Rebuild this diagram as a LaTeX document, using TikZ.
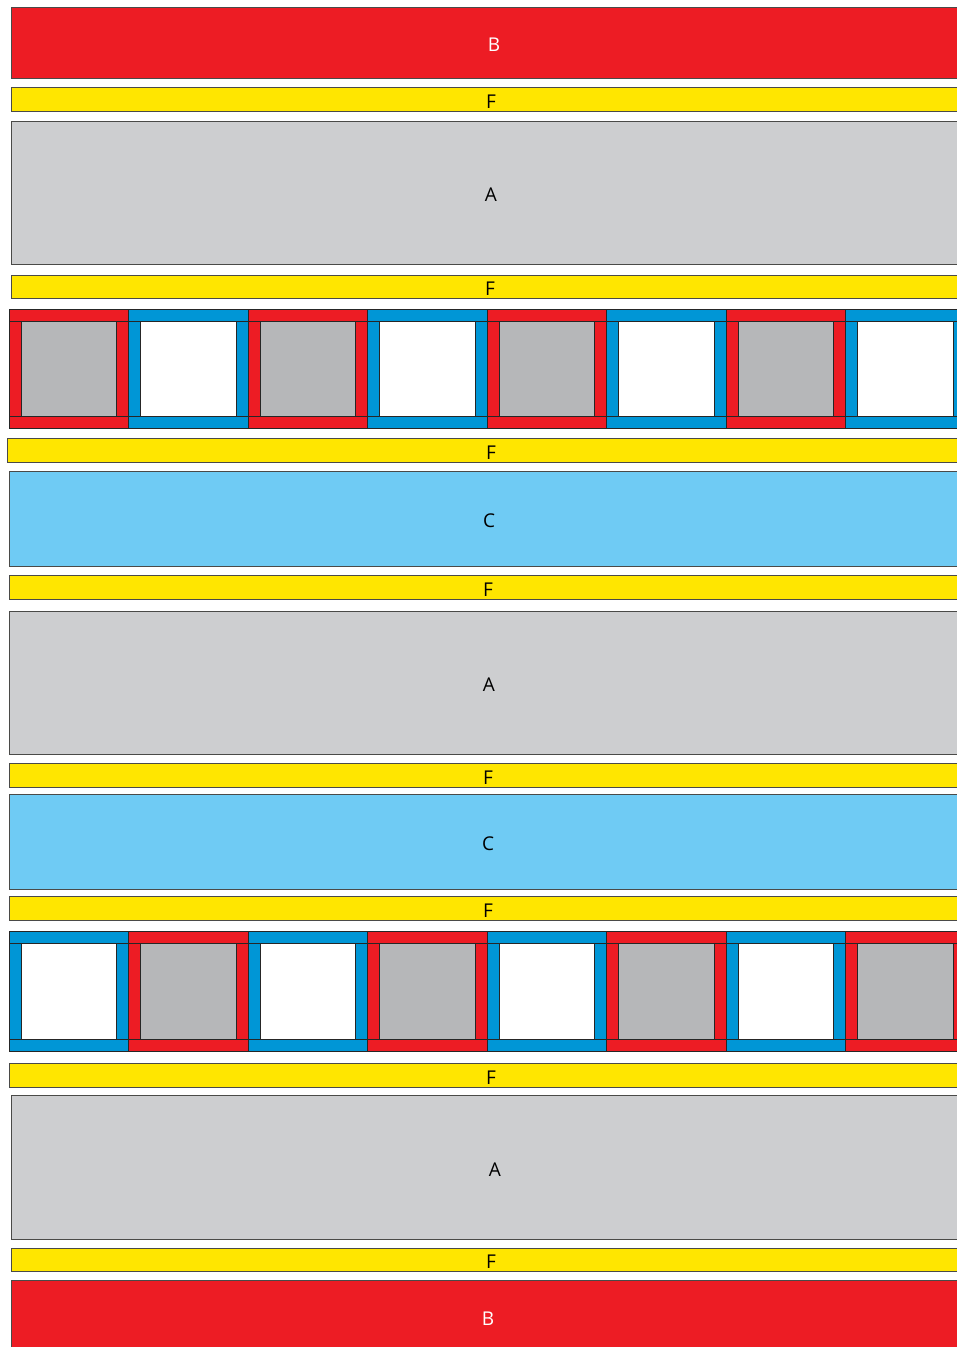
\documentclass[tikz,border=0pt]{standalone}
\usepackage{fontspec}
\setmainfont{Open Sans}
\definecolor{cred}{HTML}{ED1C24}
\definecolor{cyel}{HTML}{FFE600}
\definecolor{cgra}{HTML}{CDCED0}
\definecolor{clbl}{HTML}{6FCBF4}
\definecolor{cblu}{HTML}{0096D6}
\definecolor{cgin}{HTML}{B6B7B9}
\definecolor{cedge}{HTML}{4A4A48}
\begin{document}
\begin{tikzpicture}[x=1pt,y=-1pt,
  band/.style={draw=cedge,line width=0.8pt,anchor=north west,inner sep=0pt,outer sep=0pt,
    font=\fontsize{19}{19}\selectfont,text height=18.5pt,text depth=0pt},
  bandB/.style={band,fill=cred,text=white,minimum height=71pt},
  bandF/.style={band,fill=cyel,text=black,minimum height=24pt},
  bandA/.style={band,fill=cgra,text=black,minimum height=143pt},
  bandC/.style={band,fill=clbl,text=black,minimum height=95pt},
  cellframe/.style={draw=black!85,line width=0.8pt,anchor=north west,inner sep=0pt,outer sep=0pt,
    minimum width=119.5pt,minimum height=119pt},
  cellbar/.style={cellframe,minimum height=12pt},
  cellin/.style={cellframe,minimum width=95.5pt,minimum height=95pt}]
\useasboundingbox (0,0) rectangle (957,1347);
\clip (0,0) rectangle (957,1347);
\fill[white] (0,0) rectangle (957,1347);
% bands
\node[bandB,minimum width=966pt] (b1) at (11,7) {B};
\node[bandF,minimum width=960pt] (f1) at (11,87) {F};
\node[bandA,minimum width=960pt] (a1) at (11,121) {A};
\node[bandF,minimum width=958pt,minimum height=23pt] (f2) at (11,275) {F};
\node[bandF,minimum width=968pt] (f3) at (7,438) {F};
\node[bandC,minimum width=960pt] (c1) at (9,471) {C};
\node[bandF,minimum width=958pt] (f4) at (9,575) {F};
\node[bandA,minimum width=960pt] (a2) at (9,611) {A};
\node[bandF,minimum width=958pt] (f5) at (9,763) {F};
\node[bandC,minimum width=958pt] (c2) at (9,794) {C};
\node[bandF,minimum width=958pt] (f6) at (9,896) {F};
\node[bandF,minimum width=964pt] (f7) at (9,1063) {F};
\node[bandA,minimum width=968pt,minimum height=144pt] (a3) at (11,1095) {A};
\node[bandF,minimum width=960pt,minimum height=23pt] (f8) at (11,1248) {F};
\node[bandB,minimum width=954pt,minimum height=72pt] (b2) at (11,1280) {B};
% cell row 1
\foreach \i/\fc/\ic in {0/cred/cgin,1/cblu/white,2/cred/cgin,3/cblu/white,4/cred/cgin,5/cblu/white,6/cred/cgin,7/cblu/white}{
  \node[cellframe,fill=\fc] (ra\i) at ({9+119.5*\i},309) {};
  \node[cellbar,fill=\fc] (rat\i) at ({9+119.5*\i},309) {};
  \node[cellbar,fill=\fc,anchor=south west] (rab\i) at ({9+119.5*\i},428) {};
  \node[cellin,fill=\ic] (rai\i) at ({21+119.5*\i},321) {};
}
% cell row 2
\foreach \i/\fc/\ic in {0/cblu/white,1/cred/cgin,2/cblu/white,3/cred/cgin,4/cblu/white,5/cred/cgin,6/cblu/white,7/cred/cgin}{
  \node[cellframe,fill=\fc,minimum height=120pt] (rb\i) at ({9+119.5*\i},931) {};
  \node[cellbar,fill=\fc] (rbt\i) at ({9+119.5*\i},931) {};
  \node[cellbar,fill=\fc,anchor=south west] (rbb\i) at ({9+119.5*\i},1051) {};
  \node[cellin,fill=\ic,minimum height=96pt] (rbi\i) at ({21+119.5*\i},943) {};
}
\end{tikzpicture}
\end{document}
